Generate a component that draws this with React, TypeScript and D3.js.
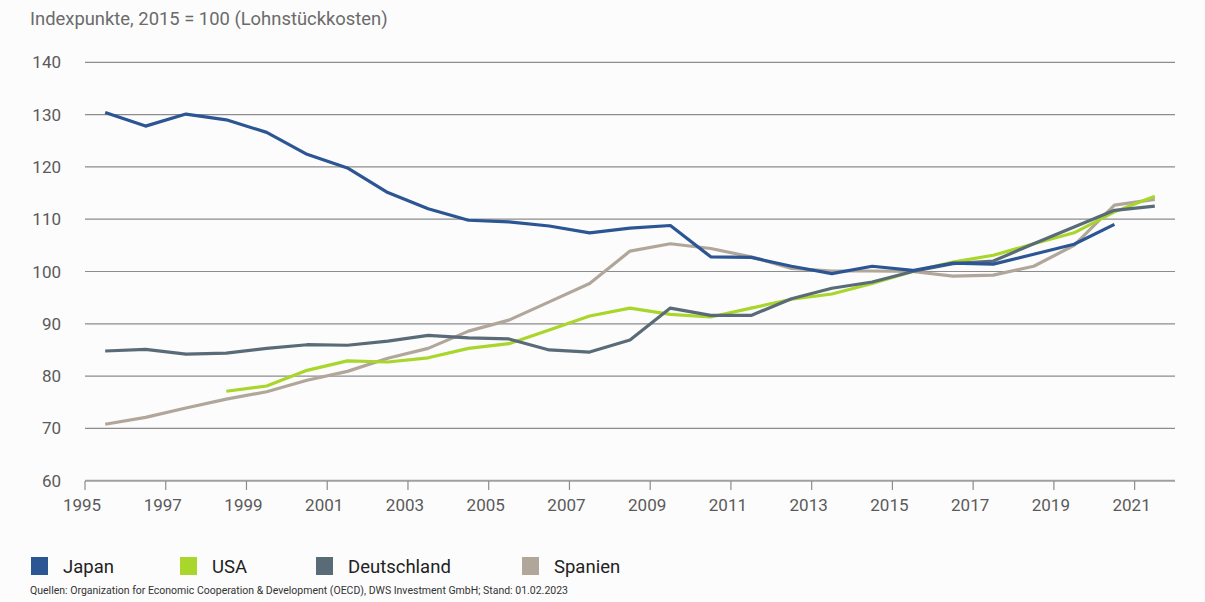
import React from 'react';
import * as d3 from 'd3';

const years = d3.range(1995, 2022);

// Lohnstückkosten, Index 2015 = 100
const japan = [130.4, 127.8, 130.1, 129.0, 126.6, 122.4, 119.8, 115.1, 112.0, 109.8, 109.5, 108.7, 107.4, 108.3, 108.8, 102.8, 102.7, 101.0, 99.6, 101.0, 100.2, 101.6, 101.4, 103.3, 105.2, 109.0, null];
const usa = [null, null, null, 77.1, 78.1, 81.1, 82.9, 82.7, 83.5, 85.3, 86.2, 88.8, 91.5, 93.0, 91.8, 91.3, 93.0, 94.7, 95.7, 97.7, 100.0, 101.8, 103.1, 105.3, 107.4, 111.4, 114.4];
const deutschland = [84.8, 85.1, 84.2, 84.4, 85.3, 86.0, 85.9, 86.7, 87.8, 87.3, 87.1, 85.0, 84.6, 86.9, 93.0, 91.6, 91.6, 94.8, 96.8, 98.0, 100.0, 101.5, 102.0, 105.3, 108.5, 111.7, 112.5];
const spanien = [70.8, 72.1, 73.9, 75.6, 77.0, 79.2, 80.9, 83.4, 85.3, 88.6, 90.7, 94.2, 97.7, 103.9, 105.3, 104.4, 102.8, 100.6, 100.1, 100.1, 100.0, 99.1, 99.3, 101.0, 105.0, 112.7, 113.8];

const yTicks = [60, 70, 80, 90, 100, 110, 120, 130, 140];
const xTickYears = years.filter((y) => y % 2 === 1);

const series = [
  { name: 'Japan', values: japan, color: '#2c5593' },
  { name: 'USA', values: usa, color: '#a9d62b' },
  { name: 'Deutschland', values: deutschland, color: '#5a6b78' },
  { name: 'Spanien', values: spanien, color: '#b1a69a' },
];
const drawOrder = ['Spanien', 'USA', 'Deutschland', 'Japan'];

const width = 1205;
const height = 602;
const font = 'Roboto, "Liberation Sans", Arial, sans-serif';

const App: React.FC = () => {
  const x = d3.scaleBand<number>().domain(years).range([85, 1175]);
  const y = d3.scaleLinear().domain([60, 140]).range([480.7, 62.3]);
  const bw = x.bandwidth();

  const line = d3
    .line<number | null>()
    .defined((d) => d !== null)
    .x((_, i) => (x(years[i]) as number) + bw / 2)
    .y((d) => y(d as number));

  const legendX = [31, 180, 316, 522];

  return (
    <svg
      width={width}
      height={height}
      style={{ position: 'absolute', left: 0, top: 0, background: '#fcfcfc', fontFamily: font }}
    >
      <text x={30} y={25} fontSize={18.4} fill="#6b6b6b">
        Indexpunkte, 2015 = 100 (Lohnstückkosten)
      </text>

      {/* gridlines + y labels */}
      {yTicks.map((t) => (
        <g key={t}>
          <line x1={85} x2={1175} y1={y(t)} y2={y(t)} stroke={t === 60 ? '#a0a0a0' : '#8c8c8c'} strokeWidth={t === 60 ? 2 : 1.2} />
          <text x={61} y={y(t) + 6} textAnchor="end" fontSize={17} fill="#5a5a5a">
            {t}
          </text>
        </g>
      ))}

      {/* x ticks */}
      {xTickYears.map((yr) => (
        <g key={yr}>
          <line x1={x(yr)} x2={x(yr)} y1={481} y2={490} stroke="#8c8c8c" strokeWidth={1.2} />
          <text x={(x(yr) as number) - 3} y={511} textAnchor="middle" fontSize={17} fill="#5a5a5a">
            {yr}
          </text>
        </g>
      ))}

      {/* lines */}
      {drawOrder.map((n) => {
        const s = series.find((d) => d.name === n)!;
        return (
          <path
            key={n}
            d={line(s.values) || ''}
            fill="none"
            stroke={s.color}
            strokeWidth={3.2}
            strokeLinejoin="round"
          />
        );
      })}

      {/* legend */}
      {series.map((s, i) => (
        <g key={s.name} transform={`translate(${legendX[i]},557)`}>
          <rect x={0} y={0} width={17} height={18} fill={s.color} />
          <text x={32} y={16} fontSize={18.5} fill="#222">
            {s.name}
          </text>
        </g>
      ))}

      <text x={30} y={594} fontSize={10.5} fill="#333">
        Quellen: Organization for Economic Cooperation &amp; Development (OECD), DWS Investment GmbH; Stand: 01.02.2023
      </text>
    </svg>
  );
};

export default App;
